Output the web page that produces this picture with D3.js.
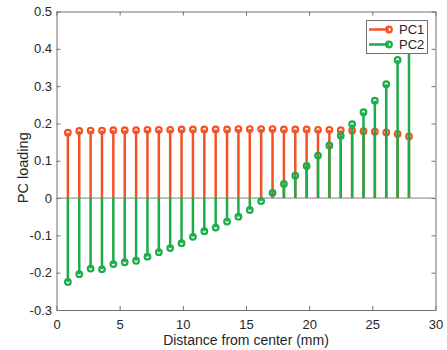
<!DOCTYPE html>
<html>
<head>
<meta charset="utf-8">
<script src="https://cdn.jsdelivr.net/npm/d3@7"></script>
<style>
  html, body { margin: 0; padding: 0; background: #fff; }
  svg { display: block; font-family: "Liberation Sans", Arial, Helvetica, sans-serif; }
</style>
</head>
<body>
<svg id="chart" width="447" height="350"></svg>
<script>
// Distance of each sampled ring from the center (mm)
const distances = [0.9, 1.8, 2.7, 3.6, 4.5, 5.4, 6.3, 7.2, 8.1, 9.0,
  9.9, 10.8, 11.7, 12.6, 13.5, 14.4, 15.3, 16.2, 17.1, 18.0,
  18.9, 19.8, 20.7, 21.6, 22.5, 23.4, 24.3, 25.2, 26.1, 27.0, 27.9];

// Loadings of the first two principal components
const pc1 = [0.175, 0.180, 0.181, 0.181, 0.182, 0.182, 0.182, 0.183, 0.183, 0.183,
  0.184, 0.184, 0.184, 0.184, 0.184, 0.185, 0.185, 0.185, 0.185, 0.184,
  0.184, 0.184, 0.183, 0.183, 0.182, 0.181, 0.179, 0.178, 0.176, 0.172, 0.165];
const pc2 = [-0.225, -0.204, -0.189, -0.191, -0.177, -0.172, -0.168, -0.157, -0.145, -0.134,
  -0.121, -0.104, -0.089, -0.079, -0.063, -0.050, -0.032, -0.008, 0.014, 0.038,
  0.060, 0.086, 0.114, 0.141, 0.167, 0.198, 0.230, 0.261, 0.305, 0.370, 0.450];

const seriesNames = ["PC1", "PC2"];
const xTicks = [0, 5, 10, 15, 20, 25, 30];
const yTicks = [-0.3, -0.2, -0.1, 0, 0.1, 0.2, 0.3, 0.4, 0.5];
const xLabel = "Distance from center (mm)";
const yLabel = "PC loading";

const colors = ["#F25226", "#1BAD4B"];
const axisColor = "#707070";
const textColor = "#262626";

const svg = d3.select("#chart");
const plot = { left: 56.5, right: 435.5, top: 11.5, bottom: 310 };

const x = d3.scaleLinear().domain([0, 30]).range([plot.left, plot.right]);
const y = d3.scaleLinear().domain([-0.3, 0.5]).range([plot.bottom, plot.top]);

const fmt = d => d === 0 ? "0" : d.toFixed(1);

// clip so marks stay inside the axes box
svg.append("defs").append("clipPath").attr("id", "plotClip")
  .append("rect")
  .attr("x", plot.left).attr("y", plot.top)
  .attr("width", plot.right - plot.left).attr("height", plot.bottom - plot.top);

// Axes (ticks pointing inward on all four sides)
function styleAxis(g) {
  g.selectAll("path.domain").attr("stroke", axisColor).attr("stroke-width", 1);
  g.selectAll(".tick line").attr("stroke", axisColor).attr("stroke-width", 1);
  g.selectAll(".tick text").attr("fill", textColor).style("font-size", "13px")
    .style("font-family", "'Liberation Sans', Arial, sans-serif");
}

svg.append("g").attr("transform", `translate(0,${plot.bottom})`)
  .call(d3.axisBottom(x).tickValues(xTicks).tickFormat(d3.format("d"))
    .tickSize(-4).tickSizeOuter(0).tickPadding(9.5))
  .call(styleAxis);
svg.append("g").attr("transform", `translate(0,${plot.top})`)
  .call(d3.axisTop(x).tickValues(xTicks).tickFormat("")
    .tickSize(-4).tickSizeOuter(0))
  .call(styleAxis);
svg.append("g").attr("transform", `translate(${plot.left},0)`)
  .call(d3.axisLeft(y).tickValues(yTicks).tickFormat(fmt)
    .tickSize(-4).tickSizeOuter(0).tickPadding(4.5))
  .call(styleAxis);
svg.append("g").attr("transform", `translate(${plot.right},0)`)
  .call(d3.axisRight(y).tickValues(yTicks).tickFormat("")
    .tickSize(-4).tickSizeOuter(0))
  .call(styleAxis);

// Axis titles
svg.append("text")
  .attr("x", (plot.left + plot.right) / 2).attr("y", 345)
  .attr("text-anchor", "middle").attr("fill", textColor)
  .style("font-size", "14px")
  .text(xLabel);
svg.append("text")
  .attr("transform", `translate(28,${(plot.top + plot.bottom) / 2 + 7}) rotate(-90)`)
  .attr("text-anchor", "middle").attr("fill", textColor)
  .style("font-size", "14.5px")
  .text(yLabel);

const marks = svg.append("g").attr("clip-path", "url(#plotClip)");

// Stem baseline at zero
marks.append("line")
  .attr("x1", plot.left).attr("x2", plot.right)
  .attr("y1", y(0)).attr("y2", y(0))
  .attr("stroke", "#808080").attr("stroke-width", 1);

// Stems and hollow circle markers for each component
[pc1, pc2].forEach((vals, si) => {
  const data = distances.map((d, i) => ({ d, v: vals[i] }));
  const g = marks.append("g");
  g.selectAll("line.stem").data(data).join("line")
    .attr("class", "stem")
    .attr("x1", p => x(p.d)).attr("x2", p => x(p.d))
    .attr("y1", y(0)).attr("y2", p => y(p.v))
    .attr("stroke", colors[si]).attr("stroke-width", 2.5);
  g.selectAll("circle").data(data).join("circle")
    .attr("cx", p => x(p.d)).attr("cy", p => y(p.v))
    .attr("r", 2.8)
    .attr("fill", "none")
    .attr("stroke", colors[si]).attr("stroke-width", 2.2);
});

// Legend
const legend = svg.append("g");
legend.append("rect")
  .attr("x", 366.5).attr("y", 20.5).attr("width", 61).attr("height", 33)
  .attr("fill", "#fff").attr("stroke", axisColor).attr("stroke-width", 1);
seriesNames.forEach((name, i) => {
  const cy = 29.5 + i * 15;
  legend.append("line")
    .attr("x1", 369).attr("x2", 389).attr("y1", cy).attr("y2", cy)
    .attr("stroke", colors[i]).attr("stroke-width", 2.5);
  legend.append("circle")
    .attr("cx", 389).attr("cy", cy).attr("r", 2.8)
    .attr("fill", "none").attr("stroke", colors[i]).attr("stroke-width", 2.2);
  legend.append("text")
    .attr("x", 399).attr("y", cy + 4.5)
    .attr("fill", textColor).style("font-size", "13px")
    .text(name);
});
</script>
</body>
</html>
